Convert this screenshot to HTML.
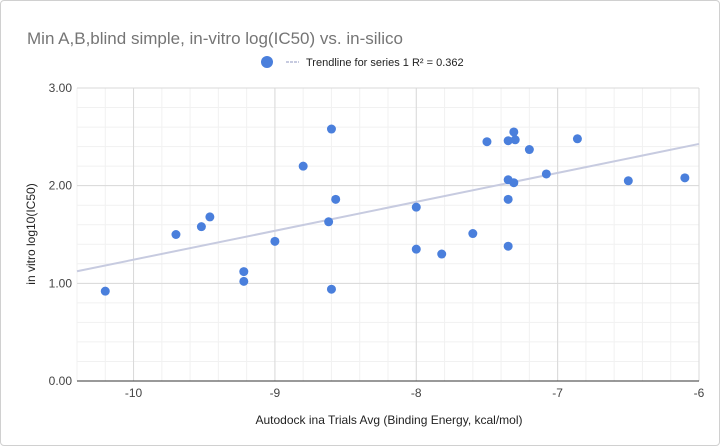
<!DOCTYPE html>
<html><head><meta charset="utf-8"><style>
body{margin:0;background:#fff;font-family:"Liberation Sans",Arial,sans-serif}
#wrap{position:relative;width:718px;height:444px;border:1px solid #d0d0d0;border-radius:4px;overflow:hidden}
</style></head><body>
<div id="wrap">
<svg id="c" width="720" height="446"></svg>
</div>
<script>
const xVals=[-10.2,-9.7,-9.52,-9.46,-9.22,-9.22,-9.0,-8.8,-8.62,-8.6,-8.57,-8.6,-8.0,-8.0,-7.82,-7.6,-7.5,-7.35,-7.35,-7.35,-7.35,-7.31,-7.3,-7.31,-7.2,-7.08,-6.86,-6.5,-6.1];
const yVals=[0.92,1.50,1.58,1.68,1.12,1.02,1.43,2.20,1.63,2.58,1.86,0.94,1.78,1.35,1.30,1.51,2.45,2.46,2.06,1.86,1.38,2.55,2.47,2.03,2.37,2.12,2.48,2.05,2.08];
const xTicks=[-10,-9,-8,-7,-6];
const yTicks=[0,1,2,3];
const xLabels=["-10","-9","-8","-7","-6"];
const yLabels=["0.00","1.00","2.00","3.00"];
const NS="http://www.w3.org/2000/svg";
const svg=document.getElementById('c');
const L=76,R=698,T=87,B=380,XMIN=-10.4,XMAX=-6,YMIN=0,YMAX=3;
const sx=v=>L+(v-XMIN)/(XMAX-XMIN)*(R-L);
const sy=v=>B-(v-YMIN)/(YMAX-YMIN)*(B-T);
function mk(t,a,txt){const e=document.createElementNS(NS,t);for(const k in a)e.setAttribute(k,a[k]);if(txt!==undefined)e.textContent=txt;svg.appendChild(e);return e;}
let e;
e=mk('text',{x:26,y:43,'font-size':17,fill:'#757575'},'Min A,B,blind simple, in-vitro log(IC50) vs. in-silico');


for(let v=-10.4;v<=-6.001;v+=0.2){const x=sx(v);e=mk('line',{x1:x,x2:x,y1:T,y2:B,stroke:'#f1f1f1'});}
for(let v=0.2;v<3;v+=0.2){const y=sy(v);e=mk('line',{x1:L,x2:R,y1:y,y2:y,stroke:'#f1f1f1'});}
xTicks.forEach((v,i)=>{const x=sx(v);
 e=mk('line',{x1:x,x2:x,y1:T,y2:B,stroke:'#d9d9d9'});
 e=mk('text',{x:x,y:396,'font-size':12,fill:'#444','text-anchor':'middle'},xLabels[i]);});
yTicks.forEach((v,i)=>{const y=sy(v);
 e=mk('line',{x1:L,x2:R,y1:y,y2:y,stroke:v===0?'#333':'#d9d9d9'});
 e=mk('text',{x:71,y:y+4,'font-size':12,fill:'#444','text-anchor':'end'},yLabels[i]);});
const n=xVals.length;let mx=0,my=0;xVals.forEach((v,i)=>{mx+=v;my+=yVals[i];});mx/=n;my/=n;
let sxy=0,sxx=0;xVals.forEach((v,i)=>{sxy+=(v-mx)*(yVals[i]-my);sxx+=(v-mx)*(v-mx);});
const m=sxy/sxx,b=my-m*mx;
e=mk('line',{x1:sx(XMIN),y1:sy(m*XMIN+b),x2:sx(XMAX),y2:sy(m*XMAX+b),stroke:'#c7cbe0','stroke-width':2});

xVals.forEach((v,i)=>{e=mk('circle',{cx:sx(v),cy:sy(yVals[i]),r:4.5,fill:'#4a7fdc'});
 });
e=mk('circle',{cx:266,cy:61,r:6,fill:'#4a7fdc'});
e=mk('line',{x1:285,x2:298,y1:61,y2:61,stroke:'#c7cbe0','stroke-width':2,'stroke-dasharray':'3,1'});
e=mk('text',{x:305,y:65,'font-size':11,fill:'#222'},'Trendline for series 1 R² = 0.362');
e=mk('text',{x:388,y:423,'font-size':12,fill:'#222','text-anchor':'middle'},'Autodock ina Trials Avg (Binding Energy, kcal/mol)');
e=mk('text',{x:0,y:0,'font-size':12,fill:'#222','text-anchor':'middle',transform:'translate(34,233) rotate(-90)'},'in vitro log10(IC50)');
</script>
</body></html>
